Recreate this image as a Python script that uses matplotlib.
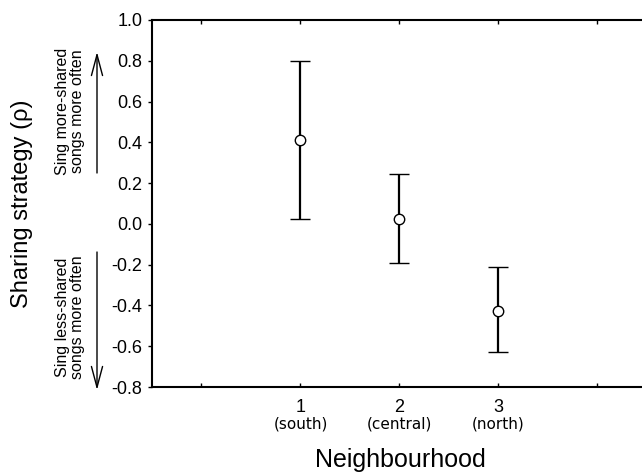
import matplotlib
matplotlib.use("Agg")
import matplotlib.pyplot as plt
import matplotlib.transforms as mtransforms

plt.rcParams['font.family'] = ['Liberation Sans', 'DejaVu Sans']

# Data
neighbourhoods = [1, 2, 3]
region_names = ["(south)", "(central)", "(north)"]
rho_mean = [0.41, 0.025, -0.425]
ci_upper = [0.80, 0.245, -0.21]
ci_lower = [0.025, -0.19, -0.63]
y_ticks = [-0.8, -0.6, -0.4, -0.2, 0.0, 0.2, 0.4, 0.6, 0.8, 1.0]
x_ticks = [0, 1, 2, 3, 4]

fig = plt.figure(figsize=(6.42, 4.75), dpi=100)
ax = fig.add_axes([152/642, 1 - 387/475, 1 - 152/642, (387 - 20)/475])

err_lo = [m - l for m, l in zip(rho_mean, ci_lower)]
err_hi = [u - m for m, u in zip(rho_mean, ci_upper)]
ax.errorbar(neighbourhoods, rho_mean, yerr=[err_lo, err_hi], fmt='o',
            color='black', ecolor='black', elinewidth=1.6, capsize=7.5,
            capthick=1.6, markersize=7.5, markerfacecolor='white',
            markeredgecolor='black', markeredgewidth=1.0, zorder=3)

ax.set_xlim(-0.5, 4.45)
ax.set_ylim(-0.8, 1.0)
ax.set_yticks(y_ticks)
ax.set_yticklabels([f"{v:.1f}" for v in y_ticks], fontsize=13)
ax.set_xticks(x_ticks)
ax.set_xticklabels(["", "1", "2", "3", ""], fontsize=13)

ax.spines['right'].set_visible(False)
for s in ['left', 'bottom', 'top']:
    ax.spines[s].set_linewidth(1.5)
ax.tick_params(axis='y', direction='out', length=3, width=1, pad=4)
ax.tick_params(axis='x', direction='in', length=3, width=1, pad=9, top=True)

trans = mtransforms.blended_transform_factory(ax.transData, fig.transFigure)
for x, name in zip(neighbourhoods, region_names):
    fig.text(x, 1 - 424/475, name, transform=trans, ha='center', va='center',
             fontsize=11, family='DejaVu Sans')

fig.text(400/642, 1 - 460/475, "Neighbourhood",
         ha='center', va='center', fontsize=18)
fig.text(22/642, 1 - 204/475, "Sharing strategy (ρ)", rotation=90,
         ha='center', va='center', fontsize=17)

# Side annotations
fig.text(70/642, 1 - 111/475, "Sing more-shared\nsongs more often", rotation=90,
         ha='center', va='center', fontsize=11.5, linespacing=1.0)
fig.text(70/642, 1 - 317/475, "Sing less-shared\nsongs more often", rotation=90,
         ha='center', va='center', fontsize=11.5, linespacing=1.0)
arrow = dict(arrowstyle='->,head_length=1.5,head_width=0.4', color='black', lw=1.0,
             shrinkA=0, shrinkB=0)
ax.annotate("", xy=(97/642, 1 - 52/475), xytext=(97/642, 1 - 173/475),
            xycoords='figure fraction', textcoords='figure fraction',
            arrowprops=arrow, annotation_clip=False)
ax.annotate("", xy=(97/642, 1 - 390/475), xytext=(97/642, 1 - 252/475),
            xycoords='figure fraction', textcoords='figure fraction',
            arrowprops=arrow, annotation_clip=False)

fig.savefig("out.png", dpi=100)
